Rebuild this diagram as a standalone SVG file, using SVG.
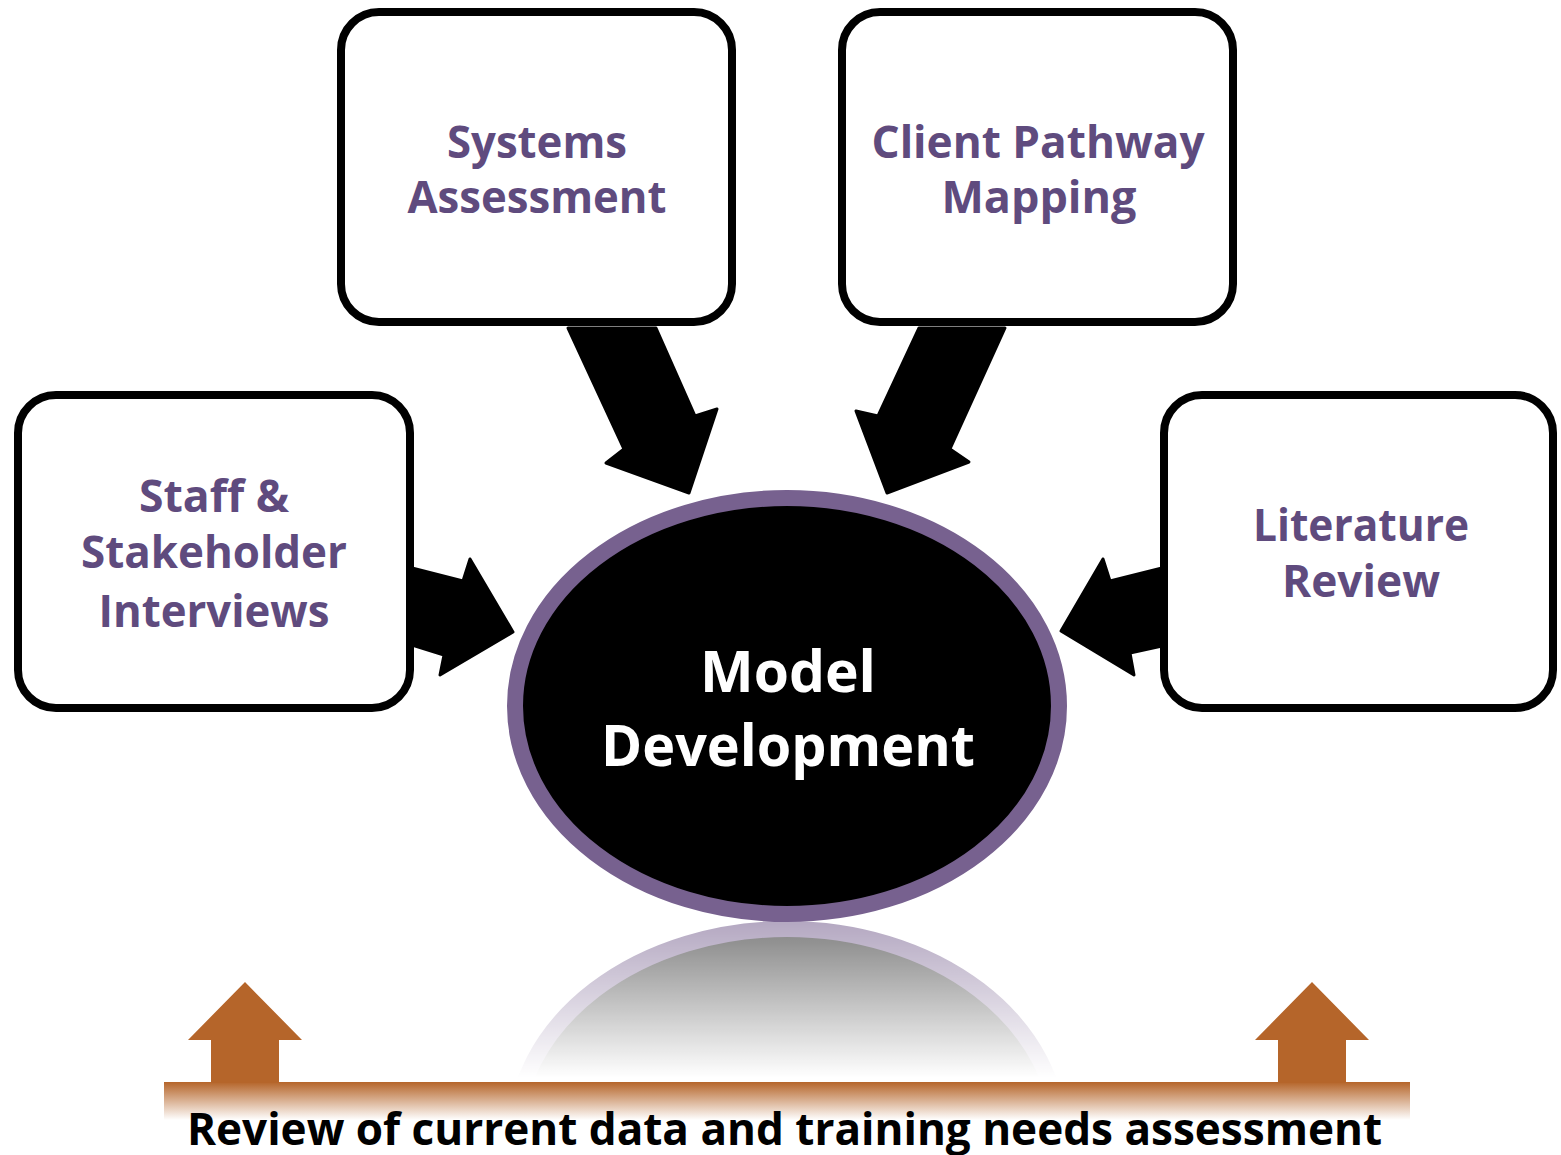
<svg xmlns="http://www.w3.org/2000/svg" width="1561" height="1155" viewBox="0 0 1561 1155">
<defs>
<style>
.box{fill:#fff;stroke:#000;stroke-width:8}
.lbl{font-family:"Open Sans","Noto Sans",sans-serif;font-weight:700;fill:#5f4b7e;font-size:44px;text-anchor:middle}
.big{font-family:"Open Sans","Noto Sans",sans-serif;font-weight:700;fill:#fff;font-size:57px;text-anchor:middle}
.foot{font-family:"Open Sans","Noto Sans",sans-serif;font-weight:700;fill:#000;font-size:45px}
.arr{fill:#000;stroke:#000;stroke-width:3;stroke-linejoin:round}
.oarr{fill:#b5652a}
</style>
<linearGradient id="fadeG" gradientUnits="userSpaceOnUse" x1="0" y1="922" x2="0" y2="1078">
<stop offset="0" stop-color="#fff" stop-opacity="0.55"/>
<stop offset="1" stop-color="#fff" stop-opacity="0"/>
</linearGradient>
<mask id="fadeM" maskUnits="userSpaceOnUse" x="0" y="900" width="1561" height="200">
<rect x="0" y="900" width="1561" height="200" fill="url(#fadeG)"/>
</mask>
<linearGradient id="barG" gradientUnits="userSpaceOnUse" x1="0" y1="1082" x2="0" y2="1120">
<stop offset="0" stop-color="#b5652a" stop-opacity="1"/>
<stop offset="1" stop-color="#b5652a" stop-opacity="0"/>
</linearGradient>
</defs>
<rect width="1561" height="1155" fill="#fff"/>

<g id="reflection" mask="url(#fadeM)">
<ellipse cx="787" cy="1137" rx="272" ry="208" fill="#1a1a1a" stroke="#77618f" stroke-width="16"/>
</g>

<g id="connectors">
<polygon class="arr" points="568,328 656,328 695,416 717,409 689,493 606,463 624,449"/>
<polygon class="arr" points="919,328 1005,328 950,449 969,462 887,493 856,411 878,416"/>
<polygon class="arr" points="412,568 463,581 470,559 513,632 440,675 444,655 412,645"/>
<polygon class="arr" points="1162,568 1110,581 1103,559 1061,631 1134,675 1130,653 1162,646"/>
</g>

<g id="base">
<rect x="164" y="1082" width="1246" height="38" fill="url(#barG)"/>
<polygon class="oarr" points="245,982 302,1040 279,1040 279,1083 211,1083 211,1040 188,1040"/>
<polygon class="oarr" points="1312,982 1369,1040 1346,1040 1346,1083 1278,1083 1278,1040 1255,1040"/>
<text class="foot" x="187" y="1145" textLength="1195" lengthAdjust="spacingAndGlyphs">Review of current data and training needs assessment</text>
</g>

<g id="systems">
<rect class="box" x="341" y="12" width="391" height="310" rx="38"/>
<text class="lbl" x="537" y="158" textLength="180" lengthAdjust="spacingAndGlyphs">Systems</text>
<text class="lbl" x="537" y="213" textLength="259" lengthAdjust="spacingAndGlyphs">Assessment</text>
</g>

<g id="client">
<rect class="box" x="842" y="12" width="391" height="310" rx="38"/>
<text class="lbl" x="1038" y="158" textLength="333" lengthAdjust="spacingAndGlyphs">Client Pathway</text>
<text class="lbl" x="1039" y="213" textLength="195" lengthAdjust="spacingAndGlyphs">Mapping</text>
</g>

<g id="staff">
<rect class="box" x="18" y="395" width="392" height="313" rx="38"/>
<text class="lbl" x="214" y="512" textLength="150" lengthAdjust="spacingAndGlyphs">Staff &amp;</text>
<text class="lbl" x="214" y="568" textLength="266" lengthAdjust="spacingAndGlyphs">Stakeholder</text>
<text class="lbl" x="214" y="627" textLength="231" lengthAdjust="spacingAndGlyphs">Interviews</text>
</g>

<g id="literature">
<rect class="box" x="1164" y="395" width="389" height="313" rx="38"/>
<text class="lbl" x="1361" y="541" textLength="216" lengthAdjust="spacingAndGlyphs">Literature</text>
<text class="lbl" x="1361" y="597" textLength="158" lengthAdjust="spacingAndGlyphs">Review</text>
</g>

<g id="model">
<ellipse cx="787" cy="706" rx="272" ry="208" fill="#000" stroke="#77618f" stroke-width="16"/>
<text class="big" x="788" y="692" textLength="176" lengthAdjust="spacingAndGlyphs">Model</text>
<text class="big" x="788" y="766" textLength="374" lengthAdjust="spacingAndGlyphs">Development</text>
</g>
</svg>
